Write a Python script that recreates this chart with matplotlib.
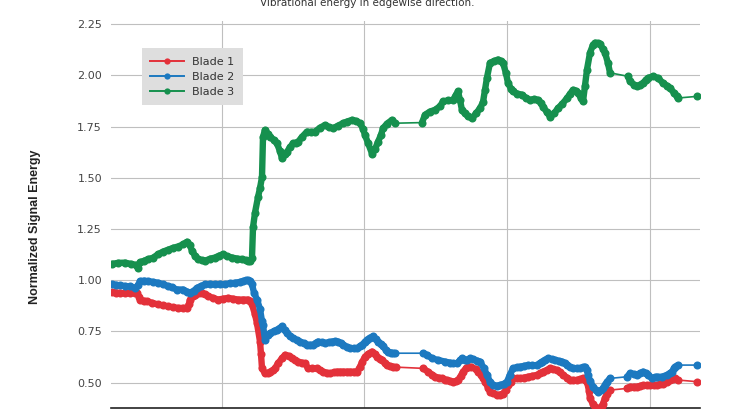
import numpy as np
import matplotlib
matplotlib.use("Agg")
import matplotlib.pyplot as plt
from matplotlib.lines import Line2D

# ---------------- data (x = sample position, y = normalized signal energy) ----------------
blade3_x = [112,118,125,131,136,138,140,144,148,153,158,163,168,173,178,183,187,190,192,195,
            198,202,205,210,215,219,223,227,232,237,242,246,248,250,252,253,255,258,260,262,
            263,265,268,270,274,277,280,282,285,287,290,293,296,298,302,307,311,315,320,325,
            329,333,338,343,347,352,356,360,363,365,368,372,375,378,381,383,387,392,395,
            422,425,430,435,440,443,448,453,456,458,460,462,465,468,472,476,480,483,485,487,
            490,494,498,501,503,506,508,511,513,517,522,526,530,534,538,541,543,547,550,554,
            558,562,567,570,573,576,578,581,583,585,587,590,593,595,598,600,603,605,608,610,
            628,630,634,637,640,643,646,648,653,658,663,667,670,674,677,678,697]
blade3_y = [1.080,1.085,1.086,1.080,1.075,1.062,1.088,1.095,1.103,1.110,1.127,1.140,1.149,1.158,1.165,1.175,1.188,1.170,1.144,1.120,
            1.103,1.098,1.095,1.105,1.111,1.120,1.127,1.118,1.111,1.106,1.103,1.098,1.095,1.092,1.110,1.258,1.330,1.406,1.450,1.504,
            1.700,1.734,1.715,1.700,1.685,1.668,1.630,1.595,1.615,1.627,1.650,1.668,1.672,1.676,1.700,1.726,1.724,1.726,1.745,1.758,
            1.748,1.742,1.755,1.767,1.775,1.783,1.778,1.767,1.740,1.709,1.670,1.619,1.640,1.676,1.710,1.742,1.765,1.783,1.767,
            1.770,1.808,1.824,1.832,1.850,1.873,1.878,1.881,1.905,1.922,1.880,1.830,1.815,1.800,1.791,1.815,1.840,1.870,1.930,1.990,
            2.062,2.070,2.078,2.070,2.062,2.010,1.963,1.935,1.922,1.912,1.906,1.890,1.881,1.885,1.881,1.865,1.848,1.820,1.799,1.815,
            1.840,1.860,1.889,1.910,1.930,1.925,1.914,1.890,1.873,1.950,2.029,2.111,2.150,2.160,2.158,2.152,2.130,2.111,2.060,2.013,
            1.996,1.971,1.955,1.947,1.955,1.963,1.980,1.988,1.996,1.988,1.963,1.950,1.939,1.915,1.898,1.890,1.898]

blade2_x = [112,116,120,125,130,135,138,140,144,148,153,158,163,168,172,177,183,187,190,194,
            197,201,205,210,215,220,225,230,235,240,243,246,248,250,252,254,257,260,262,263,
            265,268,270,274,277,280,282,285,287,290,293,297,300,304,307,310,313,316,318,322,
            325,329,332,335,338,341,343,347,350,354,357,360,362,365,367,370,373,376,378,381,
            383,386,388,391,393,395,
            423,427,432,438,445,450,453,457,460,462,465,467,470,473,477,480,484,487,490,493,
            497,500,504,507,510,513,517,520,524,528,532,537,540,542,545,548,552,555,559,562,
            565,567,570,573,577,580,583,585,587,588,590,593,596,598,601,603,605,607,610,
            627,630,634,637,640,643,646,648,652,655,657,662,667,670,672,674,675,678,697]
blade2_y = [0.980,0.978,0.975,0.972,0.970,0.963,0.975,0.996,0.998,0.996,0.992,0.988,0.980,0.972,0.965,0.955,0.955,0.945,0.939,0.950,
            0.963,0.972,0.980,0.982,0.980,0.982,0.980,0.985,0.988,0.992,0.996,1.000,1.001,0.995,0.980,0.940,0.906,0.860,0.800,0.780,
            0.710,0.735,0.742,0.752,0.759,0.768,0.775,0.755,0.742,0.728,0.718,0.708,0.701,0.692,0.685,0.685,0.685,0.695,0.701,0.697,
            0.693,0.697,0.701,0.702,0.701,0.692,0.685,0.675,0.668,0.668,0.668,0.677,0.685,0.700,0.710,0.720,0.726,0.712,0.701,0.688,
            0.677,0.660,0.652,0.647,0.644,0.644,
            0.644,0.636,0.619,0.611,0.603,0.598,0.594,0.594,0.610,0.619,0.612,0.611,0.619,0.615,0.608,0.603,0.570,0.538,0.505,0.488,
            0.485,0.488,0.495,0.505,0.540,0.570,0.575,0.578,0.582,0.586,0.585,0.586,0.595,0.603,0.612,0.619,0.614,0.611,0.606,0.603,
            0.595,0.586,0.577,0.570,0.570,0.570,0.575,0.578,0.560,0.538,0.510,0.480,0.462,0.456,0.462,0.472,0.490,0.505,0.521,
            0.529,0.545,0.542,0.538,0.546,0.554,0.545,0.538,0.521,0.527,0.529,0.529,0.538,0.546,0.554,0.570,0.578,0.586,0.586]

blade1_x = [112,116,120,125,130,135,137,139,140,144,147,152,158,163,168,173,178,183,187,189,
            190,193,195,199,202,205,208,213,218,223,228,233,238,243,248,250,252,255,257,260,
            261,262,265,268,270,273,275,278,282,285,289,292,295,298,302,305,308,312,317,320,
            323,327,330,334,337,340,343,347,350,354,357,360,362,365,368,372,375,377,380,382,
            385,387,390,393,396,
            423,428,432,435,439,442,445,447,450,453,456,458,461,463,466,468,471,476,478,481,
            483,485,488,490,493,497,500,503,506,508,511,513,517,520,524,528,532,537,540,543,
            547,550,553,557,560,563,567,570,573,577,580,583,585,587,589,590,593,595,598,600,
            602,603,605,607,610,
            627,630,634,637,640,643,647,650,654,657,660,663,667,670,673,675,678,697]
blade1_y = [0.942,0.940,0.938,0.936,0.938,0.939,0.939,0.920,0.906,0.900,0.898,0.890,0.882,0.877,0.873,0.868,0.865,0.865,0.865,0.885,
            0.906,0.922,0.930,0.936,0.939,0.931,0.923,0.914,0.906,0.910,0.914,0.910,0.906,0.906,0.906,0.898,0.882,0.833,0.790,0.701,
            0.640,0.570,0.545,0.548,0.554,0.562,0.570,0.595,0.619,0.636,0.630,0.619,0.611,0.603,0.598,0.594,0.570,0.570,0.570,0.562,
            0.554,0.548,0.545,0.550,0.554,0.554,0.554,0.554,0.554,0.554,0.554,0.578,0.600,0.627,0.640,0.652,0.640,0.627,0.618,0.611,
            0.595,0.586,0.580,0.578,0.576,
            0.570,0.554,0.540,0.529,0.524,0.521,0.515,0.513,0.508,0.505,0.508,0.513,0.535,0.554,0.570,0.578,0.578,0.566,0.554,0.540,
            0.521,0.505,0.475,0.456,0.448,0.440,0.442,0.447,0.465,0.488,0.505,0.521,0.521,0.521,0.525,0.529,0.533,0.538,0.546,0.554,
            0.562,0.570,0.566,0.562,0.550,0.538,0.525,0.513,0.513,0.513,0.517,0.521,0.513,0.505,0.460,0.423,0.395,0.382,0.376,0.374,
            0.385,0.398,0.425,0.447,0.464,
            0.472,0.480,0.480,0.480,0.484,0.488,0.488,0.488,0.488,0.488,0.492,0.496,0.505,0.513,0.518,0.521,0.513,0.505]

series_names = ["Blade 1", "Blade 2", "Blade 3"]
series_colors = ["#e3313a", "#1c79c0", "#16904e"]
y_ticks = [0.50, 0.75, 1.00, 1.25, 1.50, 1.75, 2.00, 2.25]
x_grid = [221.7, 364.3, 507.3, 650.0]

title_text = "Vibrational energy in edgewise direction."
y_label = "Normalized Signal Energy"

# ---------------- figure ----------------
W, H = 734, 413
fig = plt.figure(figsize=(W / 100, H / 100), dpi=100)
ax_l, ax_r, ax_t, ax_b = 111, 700, 20.6, 408.3
ax = fig.add_axes([ax_l / W, 1 - ax_b / H, (ax_r - ax_l) / W, (ax_b - ax_t) / H])

ax.set_xlim(111, 700)
ax.set_ylim(0.375, 2.268)

def with_gaps(x, y, max_dx=12):
    xs, ys = [], []
    for i in range(len(x)):
        if i > 0 and x[i] - x[i - 1] > max_dx:
            xs.append(np.nan); ys.append(np.nan)
        xs.append(x[i]); ys.append(y[i])
    return xs, ys

all_x = [blade1_x, blade2_x, blade3_x]
all_y = [blade1_y, blade2_y, blade3_y]
for xs, ys, c in zip(all_x, all_y, series_colors):
    ax.plot(xs, ys, color=c, lw=1.2, zorder=3)
    gx, gy = with_gaps(xs, ys)
    ax.plot(gx, gy, color=c, lw=4.6, solid_capstyle="round", solid_joinstyle="round", zorder=3)
    ax.plot(xs, ys, color=c, lw=0, marker="o", ms=5.8, markeredgewidth=0, zorder=3)

ax.set_yticks(y_ticks)
ax.set_yticklabels([f"{v:.2f}" for v in y_ticks])
ax.set_xticks(x_grid)
ax.set_xticklabels([])
ax.tick_params(axis="both", length=0)
ax.tick_params(axis="y", pad=6.5, labelsize=8, labelcolor="#444444")
ax.grid(True, color="#bfbfbf", lw=0.8, zorder=0)
ax.set_axisbelow(True)
for s in ["left", "right", "top"]:
    ax.spines[s].set_visible(False)
ax.spines["bottom"].set_color("#222222")
ax.spines["bottom"].set_linewidth(1.2)
ax.set_facecolor("white")

handles = [Line2D([], [], color=c, lw=1.4, marker="o", ms=4.5, markeredgewidth=0) for c in series_colors]
leg = ax.legend(handles, series_names, loc="upper left",
                bbox_to_anchor=((142 - ax_l) / (ax_r - ax_l), (ax_b - 48.3) / (ax_b - ax_t)),
                borderaxespad=0, frameon=True, fancybox=False, framealpha=1,
                facecolor="#dedede", edgecolor="none", fontsize=8,
                handlelength=3.0, handletextpad=0.75, labelspacing=0.45,
                borderpad=0.75, numpoints=1)
for t in leg.get_texts():
    t.set_color("#333333")

fig.text(367 / W, 1 - 6.5 / H, title_text, ha="center", va="baseline", fontsize=7.5, color="#333333")
fig.text(35 / W, 1 - 226.5 / H, y_label, rotation=90, ha="center", va="center",
         fontsize=9, fontweight="bold", family=["Liberation Sans", "DejaVu Sans"], color="#222222")

fig.savefig("out.png", dpi=100)
